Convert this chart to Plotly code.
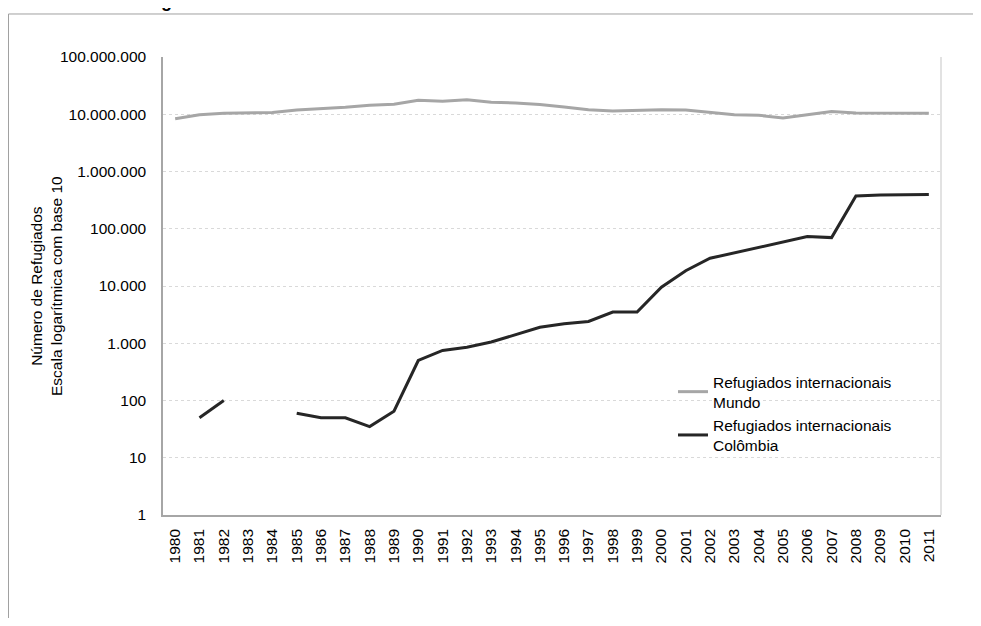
import plotly.graph_objects as go

years = [str(y) for y in range(1980, 2012)]

# refugiados internacionais, mundo
mundo = [8370000, 9840000, 10400000, 10700000, 10700000, 11900000, 12500000, 13200000,
         14300000, 14900000, 17500000, 16800000, 18000000, 16200000, 15700000, 14800000,
         13400000, 12000000, 11400000, 11700000, 12000000, 11900000, 10700000, 9840000,
         9600000, 8600000, 9800000, 11200000, 10500000, 10400000, 10600000, 10400000]

# refugiados internacionais, Colombia (sem dados em 1980, 1983, 1984)
colombia = [None, 50, 100, None, None, 60, 50, 50, 35, 65, 500, 750, 850, 1050, 1400,
            1900, 2200, 2400, 3500, 3500, 9500, 18500, 30500, 38000, 47000, 60000,
            73000, 70000, 373000, 389000, 394000, 395000]

ytick_vals = [1, 10, 100, 1000, 10000, 100000, 1000000, 10000000, 100000000]
ytick_text = ["1", "10", "100", "1.000", "10.000", "100.000", "1.000.000",
              "10.000.000", "100.000.000"]

FONT = "Liberation Sans, Arial, sans-serif"
FS = 15.5

fig = go.Figure()
fig.add_trace(go.Scatter(x=years, y=mundo, mode="lines",
                         name="Refugiados internacionais<br>Mundo",
                         line=dict(color="#a6a6a6", width=3)))
fig.add_trace(go.Scatter(x=years, y=colombia, mode="lines",
                         name="Refugiados internacionais<br>Colômbia",
                         line=dict(color="#262626", width=3),
                         connectgaps=False))

fig.update_xaxes(type="category", range=[-0.5, 31.5], tickangle=-90,
                 showgrid=False, showline=True, linecolor="#a6a6a6", linewidth=1.5,
                 ticks="outside", tickcolor="rgba(0,0,0,0)", ticklen=6,
                 tickfont=dict(size=FS, color="#000000", family=FONT))
fig.update_yaxes(type="log", range=[0, 8], tickvals=ytick_vals, ticktext=ytick_text,
                 showgrid=True, gridcolor="#d9d9d9", griddash="dot", gridwidth=1,
                 showline=True, linecolor="#a6a6a6", linewidth=1.5,
                 ticks="outside", tickcolor="rgba(0,0,0,0)", ticklen=12,
                 tickfont=dict(size=FS, color="#000000", family=FONT),
                 zeroline=False)

# titulo do eixo y
fig.add_annotation(text="Número de Refugiados<br>Escala logarítmica com base 10",
                   xref="paper", yref="paper", x=-0.1504, y=0.5, textangle=-90,
                   xanchor="center", yanchor="middle", showarrow=False,
                   font=dict(size=FS, color="#000000", family=FONT))

# borda direita da area do grafico e moldura externa
fig.add_shape(type="line", xref="paper", yref="paper", x0=1, x1=1, y0=0, y1=1,
              line=dict(color="#d9d9d9", width=1.5))
fig.add_shape(type="rect", xref="paper", yref="paper", x0=-0.1986, x1=1.2, y0=-0.4, y1=1.0939,
              line=dict(color="#a0a0a0", width=1), layer="below")

# titulo cortado no topo
fig.add_annotation(text="<b>Refugiados</b>", xref="paper", yref="paper",
                   x=-0.057, y=1.0955, xanchor="left", yanchor="bottom", showarrow=False,
                   font=dict(size=18, color="#000000", family=FONT))

fig.update_layout(
    width=965, height=610,
    margin=dict(l=155, r=32, t=49, b=103),
    paper_bgcolor="white", plot_bgcolor="white",
    font=dict(family=FONT, size=FS, color="#000000"),
    showlegend=True,
    legend=dict(x=0.6555, y=0.3275, xanchor="left", yanchor="top",
                bgcolor="rgba(0,0,0,0)", font=dict(size=FS, color="#000000", family=FONT),
                tracegroupgap=0),
)

fig.write_html("out.html")
